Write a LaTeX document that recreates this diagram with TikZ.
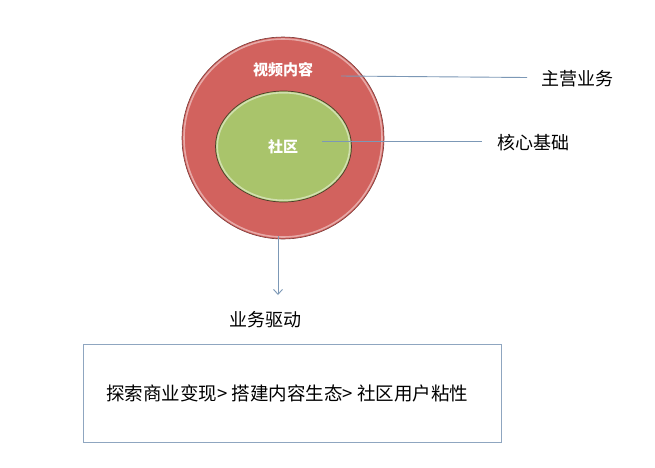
\documentclass[tikz,border=0pt]{standalone}
\usepackage{fontspec}
\setmainfont{Noto Sans CJK SC}
\usetikzlibrary{arrows.meta}
\definecolor{outerred}{HTML}{D2625E}
\definecolor{outeredge}{HTML}{7A3A38}
\definecolor{innergreen}{HTML}{A9C46B}
\definecolor{inneredge}{HTML}{4A3A2A}
\definecolor{linkblue}{HTML}{7C98B6}
\definecolor{boxedge}{HTML}{8FA6C0}
\tikzset{
  label/.style={font=\fontsize{18}{21}\selectfont, text=black, inner sep=0pt},
  inlabel/.style={font=\fontsize{15}{18}\selectfont\bfseries, text=white, inner sep=0pt},
  link/.style={draw=linkblue, line width=0.9pt},
}
\begin{document}
\begin{tikzpicture}[x=1pt,y=-1pt]
\useasboundingbox (0,0) rectangle (655,467);
\fill[white] (0,0) rectangle (655,467);
% outer circle
\fill[outerred] (283,138) circle (101);
\draw[white!45!outerred, line width=1.6pt] (283,138) circle (99);
\draw[outeredge, line width=0.6pt] (283,138) circle (101);
% inner ellipse
\fill[innergreen] (283.5,146.5) ellipse (68 and 55.5);
\draw[white!45!innergreen, line width=1.6pt] (283.5,146.5) ellipse (66.3 and 53.8);
\draw[inneredge, line width=0.7pt] (283.5,146.5) ellipse (68 and 55.5);

\node[inlabel] (video) at (283,70) {视频内容};
\node[inlabel] (comm) at (283,147) {社区};

\coordinate (s1) at (341,76);
\coordinate (s2) at (322,141);
\coordinate (s3) at (278,236);

\node[label, anchor=west] (main) at (541,79) {主营业务};
\node[label, anchor=west] (core) at (497,143) {核心基础};
\node[label] (drive) at (265,320) {业务驱动};

\draw[link] (s1) -- (527,77.5) coordinate (e1);
\draw[link] (s2) -- (482,141) coordinate (e2);
\draw[link, -{Straight Barb[length=5pt,width=9pt]}] (s3) -- (278,295) coordinate (e3);

\node[draw=boxedge, line width=0.8pt, minimum width=418pt, minimum height=98pt, anchor=north west, inner sep=0pt] (box) at (83,344) {};
\node[label, font=\fontsize{18.5}{21}\selectfont, anchor=west] (chain) at (106,393) {探索商业变现> 搭建内容生态> 社区用户粘性};
\end{tikzpicture}
\end{document}
